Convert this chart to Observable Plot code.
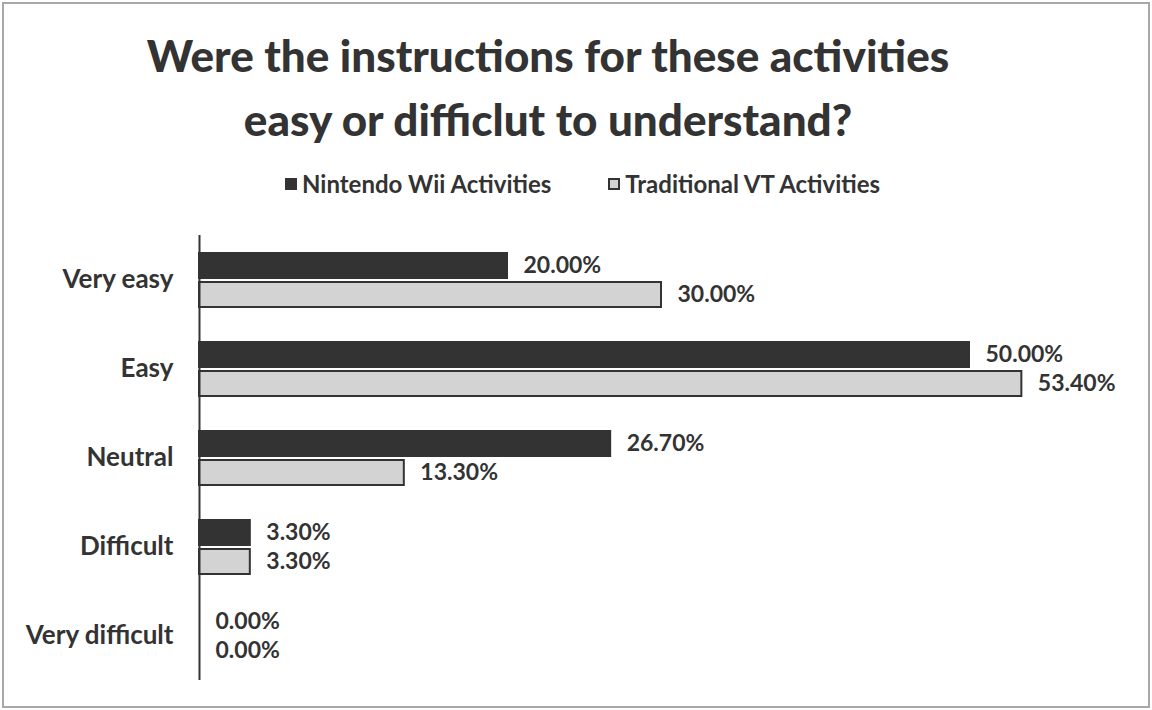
<!DOCTYPE html>
<html>
<head>
<meta charset="utf-8">
<script src="https://cdn.jsdelivr.net/npm/d3@7"></script>
<script src="https://cdn.jsdelivr.net/npm/@observablehq/plot@0.6"></script>
<style>
  html, body { margin: 0; padding: 0; background: #fff; }
  body { width: 1152px; height: 710px; position: relative; overflow: hidden; font-family: Lato, "Open Sans", sans-serif; color: #333; }
  #frame { position: absolute; left: 2px; top: 2px; width: 1148px; height: 706px; box-sizing: border-box; border: 2px solid #a8a8a8; }
  #title { position: absolute; left: 0; top: 23px; width: 1096px; text-align: center; font-weight: 900; font-size: 44px; line-height: 64px; color: #333; }
  #legend { position: absolute; left: 285px; top: 169px; display: flex; align-items: center; font-weight: bold; font-size: 24px; color: #333; }
  #legend .item { display: flex; align-items: center; margin-right: 57px; }
  #legend .sw { width: 12px; height: 12px; margin-right: 5px; box-sizing: border-box; }
  #chart { position: absolute; left: 0; top: 215px; }
</style>
</head>
<body>
<div id="frame"></div>
<div id="title">Were the instructions for these activities<br>easy or difficlut to understand?</div>
<div id="legend"></div>
<div id="chart"></div>
<script>
const categories = ["Very easy", "Easy", "Neutral", "Difficult", "Very difficult"];
const series = ["Nintendo Wii Activities", "Traditional VT Activities"];
const wiiValues = [20.0, 50.0, 26.7, 3.3, 0.0];
const vtValues = [30.0, 53.4, 13.3, 3.3, 0.0];
const colors = ["#333333", "#d3d3d3"];

const data = categories.flatMap((c, i) => [
  {category: c, series: series[0], value: wiiValues[i]},
  {category: c, series: series[1], value: vtValues[i]}
]);

// legend
const legend = document.getElementById("legend");
series.forEach((s, i) => {
  const item = document.createElement("div");
  item.className = "item";
  const sw = document.createElement("span");
  sw.className = "sw";
  sw.style.background = colors[i];
  if (i === 1) sw.style.border = "2px solid #333";
  const lab = document.createElement("span");
  lab.textContent = s;
  item.appendChild(sw);
  item.appendChild(lab);
  legend.appendChild(item);
});

const chart = Plot.plot({
  width: 1152,
  height: 480,
  marginLeft: 199,
  marginRight: 29,
  marginTop: 20,
  marginBottom: 15,
  style: {fontFamily: "Lato, 'Open Sans', sans-serif", fontWeight: "bold", fontSize: "26px", color: "#333", background: "transparent"},
  x: {domain: [0, 60], axis: null},
  y: {domain: series, axis: null, paddingInner: 0.14, paddingOuter: 0.6},
  fy: {domain: categories, label: null, axis: "left", tickSize: 0, tickPadding: 26, padding: 0},
  color: {domain: series, range: colors},
  marks: [
    Plot.barX(data.filter(d => d.value > 0), {
      fy: "category", y: "series", x: "value", fill: "series",
      stroke: "#333", strokeWidth: 2
    }),
    Plot.ruleX([0], {stroke: "#333", strokeWidth: 2}),
    Plot.text(data, {
      fy: "category", y: "series", x: "value",
      text: d => d.value.toFixed(2) + "%",
      dx: 16, textAnchor: "start", fill: "#333", fontSize: 23, fontWeight: "bold"
    })
  ]
});
document.getElementById("chart").appendChild(chart);
</script>
</body>
</html>
